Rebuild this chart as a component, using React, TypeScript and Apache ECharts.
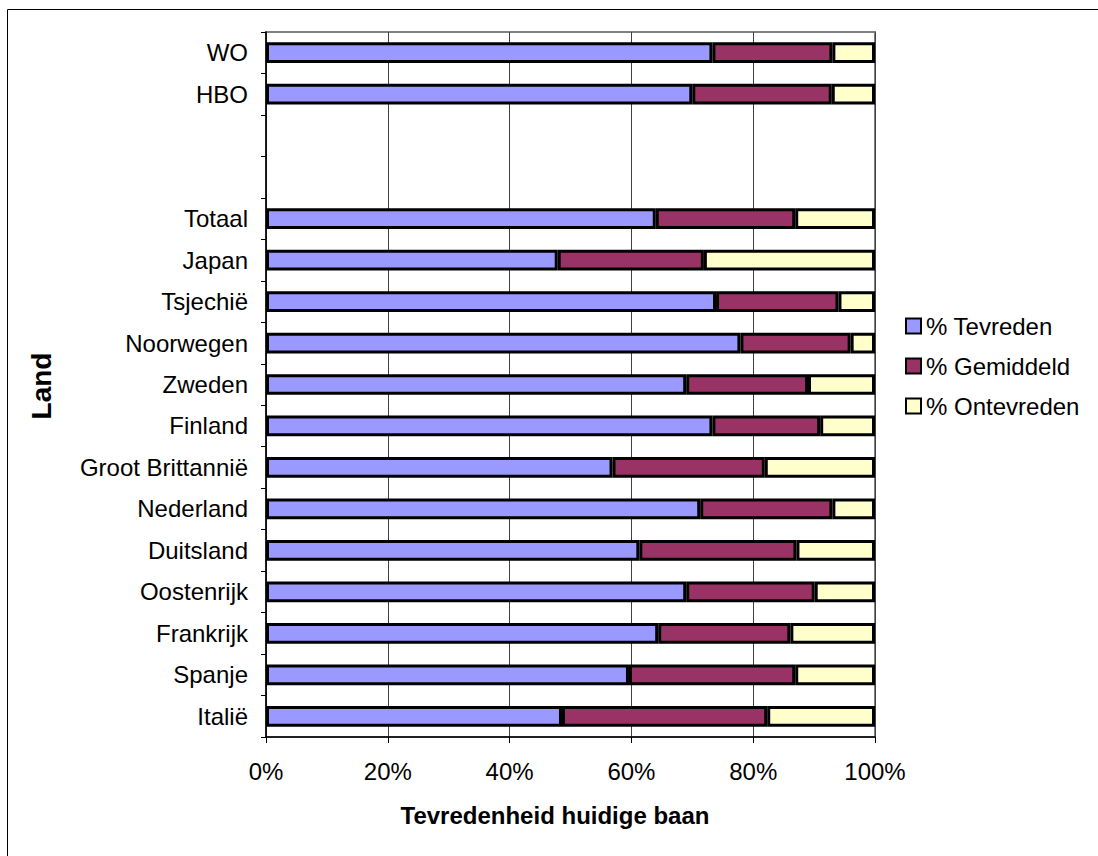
import React, { useEffect, useRef } from "react";
import * as echarts from "echarts";

const categories = [
  "Italië", "Spanje", "Frankrijk", "Oostenrijk", "Duitsland", "Nederland",
  "Groot Brittannië", "Finland", "Zweden", "Noorwegen", "Tsjechië", "Japan",
  "Totaal", " ", "  ", "HBO", "WO",
];
const tevreden = [48.6, 59.6, 64.4, 69.0, 61.3, 71.3, 56.9, 73.3, 69.0, 77.9, 73.9, 47.9, 64.0, null, null, 70.0, 73.3];
const gemiddeld = [33.7, 27.3, 21.7, 21.1, 25.8, 21.7, 25.0, 17.7, 20.0, 18.1, 20.1, 24.0, 22.9, null, null, 22.9, 19.7];
const ontevreden = [17.7, 13.1, 13.9, 9.9, 12.9, 7.0, 18.1, 9.0, 11.0, 4.0, 6.0, 28.1, 13.1, null, null, 7.1, 7.0];
const seriesNames = ["% Tevreden", "% Gemiddeld", "% Ontevreden"];
const seriesColors = ["#9999FF", "#993366", "#FFFFCC"];
const xTitle = "Tevredenheid huidige baan";
const yTitle = "Land";

const FONT = "'Liberation Sans', Arial, sans-serif";

export default function App() {
  const ref = useRef<HTMLDivElement>(null);
  useEffect(() => {
    const chart = echarts.init(ref.current!, null, { renderer: "svg" });
    const values = [tevreden, gemiddeld, ontevreden];
    chart.setOption({
      animation: false,
      backgroundColor: "#fff",
      textStyle: { fontFamily: FONT },
      grid: {
        left: 266,
        right: 223,
        top: 32,
        bottom: 119,
        show: true,
        borderColor: "#808080",
        borderWidth: 2,
        containLabel: false,
      },
      legend: {
        orient: "vertical",
        left: 900,
        top: 309,
        itemWidth: 15,
        itemHeight: 15,
        itemGap: 16,
        icon: "rect",
        itemStyle: { borderColor: "#000", borderWidth: 2 },
        textStyle: { fontFamily: FONT, fontSize: 24, color: "#000", lineHeight: 24 },
        data: seriesNames,
      },
      xAxis: {
        type: "value",
        min: 0,
        max: 100,
        interval: 20,
        axisLine: { show: true, lineStyle: { color: "#000", width: 1.5 } },
        axisTick: { show: true, length: 6, lineStyle: { color: "#000", width: 1 } },
        axisLabel: {
          formatter: "{value}%",
          fontFamily: FONT,
          fontSize: 24,
          color: "#000",
          margin: 22,
        },
        splitLine: { show: true, lineStyle: { color: "#404040", width: 1 } },
      },
      yAxis: {
        type: "category",
        data: categories,
        axisLine: { show: true, lineStyle: { color: "#000", width: 1.5 } },
        axisTick: { show: true, length: 5, lineStyle: { color: "#000", width: 1 } },
        axisLabel: {
          fontFamily: FONT,
          fontSize: 24,
          color: "#000",
          margin: 18,
          interval: 0,
        },
        splitLine: { show: false },
      },
      series: seriesNames.map((name, i) => ({
        name,
        type: "bar",
        stack: "total",
        barWidth: "50%",
        data: values[i],
        itemStyle: { color: seriesColors[i], borderColor: "#000", borderWidth: 3 },
      })),
      graphic: [
        {
          type: "rect",
          silent: true,
          shape: { x: 7.5, y: 9.5, width: 1100, height: 860 },
          style: { fill: "none", stroke: "#000", lineWidth: 1 },
        },
        {
          type: "text",
          x: 555,
          y: 815,
          style: {
            text: xTitle,
            fontFamily: FONT,
            fontSize: 24,
            fontWeight: "bold",
            fill: "#000",
            textAlign: "center",
            textVerticalAlign: "middle",
          },
        },
        {
          type: "text",
          x: 41,
          y: 386,
          rotation: Math.PI / 2,
          style: {
            text: yTitle,
            fontFamily: FONT,
            fontSize: 28,
            fontWeight: "bold",
            fill: "#000",
            textAlign: "center",
            textVerticalAlign: "middle",
          },
        },
      ],
    });
    return () => chart.dispose();
  }, []);
  return (
    <div
      ref={ref}
      style={{ position: "fixed", left: 0, top: 0, width: 1098, height: 856 }}
    />
  );
}
